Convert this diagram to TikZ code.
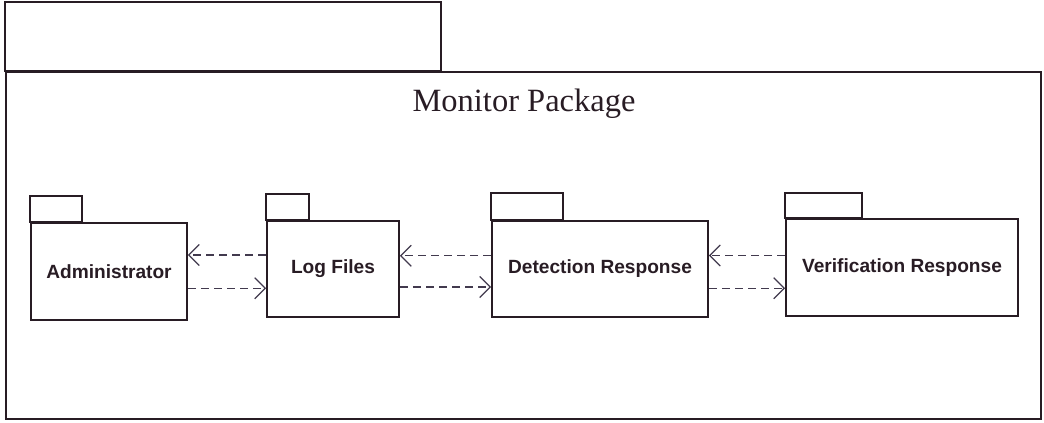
\documentclass[tikz,border=0pt]{standalone}
\usepackage{fontspec}
\setmainfont{Liberation Serif}
\setsansfont{Liberation Sans}
\usetikzlibrary{arrows.meta, positioning, calc}

\definecolor{inkline}{RGB}{40,28,36}
\definecolor{inkdash}{RGB}{66,58,78}

\tikzset{
  pkg/.style={draw=inkline, line width=1.2pt, rectangle, inner sep=0pt,
    font=\sffamily\bfseries\fontsize{13.6}{16}\selectfont, text=inkline},
  pkgtab/.style={draw=inkline, line width=1.2pt},
  dep/.style={draw=inkdash, line width=0.9pt, dash pattern=on 5.5pt off 3.8pt,
    -{Straight Barb[length=7.5pt, width=15pt, line width=0.9pt]}}
}

\begin{document}
\begin{tikzpicture}[x=0.025cm, y=-0.025cm]
  \useasboundingbox (0,0) rectangle (1044,422);

  % Monitor Package frame
  \draw[pkgtab] (5,71) rectangle (441,2);
  \node[pkg, minimum width=1035*0.025cm, minimum height=347*0.025cm, anchor=north west] (monitor) at (5,71) {};
  \node[anchor=base, font=\fontsize{23.1}{27}\selectfont, text=inkline] (title) at (524,111) {Monitor Package};

  % inner packages
  \node[pkg, minimum width=156*0.025cm, minimum height=97*0.025cm] (admin) at (109,271.5) {Administrator};
  \node[pkg, minimum width=132*0.025cm, minimum height=96*0.025cm] (logs) at (333,269) {Log Files};
  \node[pkg, minimum width=216*0.025cm, minimum height=96*0.025cm] (detect) at (600,269) {Detection Response};
  \node[pkg, minimum width=232*0.025cm, minimum height=97*0.025cm] (verify) at (902,267.5) {Verification Response};

  % tabs
  \draw[pkgtab] (admin.north west) rectangle ++(52,-26);
  \draw[pkgtab] (logs.north west) rectangle ++(43,-26);
  \draw[pkgtab] (detect.north west) rectangle ++(72,-27);
  \draw[pkgtab] (verify.north west) rectangle ++(77,-25);

  % dependencies
  \draw[dep] ([yshift=0.35cm]logs.west) -- ([yshift=0.35cm]logs.west -| admin.east);
  \draw[dep] ([yshift=-0.42cm]admin.east) -- ([yshift=-0.42cm]admin.east -| logs.west);
  \draw[dep] ([yshift=0.33cm]detect.west) -- ([yshift=0.33cm]detect.west -| logs.east);
  \draw[dep] ([yshift=-0.45cm]logs.east) -- ([yshift=-0.45cm]logs.east -| detect.west);
  \draw[dep] ([yshift=0.3cm]verify.west) -- ([yshift=0.3cm]verify.west -| detect.east);
  \draw[dep] ([yshift=-0.48cm]detect.east) -- ([yshift=-0.48cm]detect.east -| verify.west);
\end{tikzpicture}
\end{document}
